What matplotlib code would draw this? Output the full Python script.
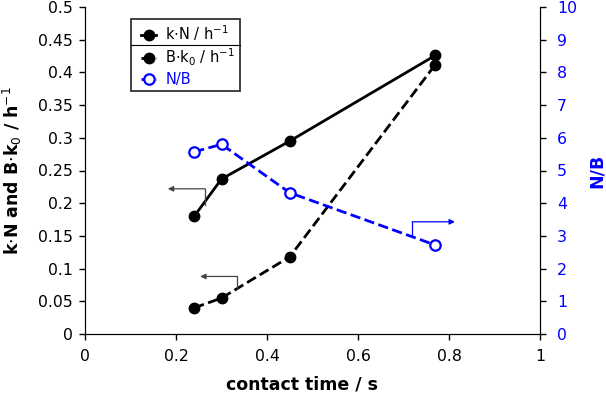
"""Rate constants and N/B ratio versus contact time."""

import matplotlib
matplotlib.use("Agg")
import matplotlib.pyplot as plt
from matplotlib.legend_handler import HandlerLine2D
from matplotlib.lines import Line2D

contact_time = [0.24, 0.30, 0.45, 0.77]
k_n = [0.180, 0.237, 0.295, 0.426]
b_k0 = [0.040, 0.055, 0.118, 0.412]
n_over_b = [5.57, 5.80, 4.32, 2.72]

plt.rcParams["font.family"] = ["DejaVu Sans"]

BLUE = "#0000ff"
GREY = "#444444"


class MarkerLeft(HandlerLine2D):
    # marker at the left end of the handle, line running to the right
    def get_xdata(self, legend, xdescent, ydescent, width, height, fontsize):
        x0 = -xdescent + 0.25 * width
        return [x0, width - xdescent], [x0]


fig = plt.figure(figsize=(6.06, 3.96), dpi=100)
ax = fig.add_axes([85 / 606, 1 - 334 / 396, 455 / 606, 327 / 396])
ax2 = ax.twinx()

(l1,) = ax.plot(contact_time, k_n, "-", color="black", lw=2,
                marker="o", ms=7.5, label=r"k$\cdot$N / h$^{-1}$")
(l2,) = ax.plot(contact_time, b_k0, "--", color="black", lw=2,
                marker="o", ms=7.5, label=r"B$\cdot$k$_0$ / h$^{-1}$")
(l3,) = ax2.plot(contact_time, n_over_b, "--", color=BLUE, lw=2,
                 marker="o", ms=7.5, mfc="white", mec=BLUE, mew=1.6,
                 label="N/B")

ax.set_xlim(0, 1)
ax.set_ylim(0, 0.5)
ax2.set_ylim(0, 10)
ax.set_xticks([0, 0.2, 0.4, 0.6, 0.8, 1])
ax.set_xticklabels(["0", "0.2", "0.4", "0.6", "0.8", "1"])
ax.set_yticks([i * 0.05 for i in range(11)])
ax.set_yticklabels(["0", "0.05", "0.1", "0.15", "0.2", "0.25", "0.3",
                    "0.35", "0.4", "0.45", "0.5"])
ax2.set_yticks(range(11))

for a in (ax, ax2):
    a.spines["top"].set_visible(False)
    a.tick_params(direction="out", length=4.3, width=1, labelsize=11.3)
ax.tick_params(axis="y", pad=4.5)
ax.tick_params(axis="x", pad=6.5)
ax2.tick_params(axis="y", colors="black", labelcolor=BLUE, pad=8)

ax.set_xlabel("contact time / s", fontsize=12.5, fontweight="bold")
ax.xaxis.set_label_coords(0.476, -0.128)
ax.set_ylabel(r"k$\cdot$N and B$\cdot$k$_0$ / h$^{-1}$", fontsize=12.5,
              fontweight="bold")
ax.yaxis.set_label_coords(-0.134, 0.5)
ax2.set_ylabel("N/B", fontsize=12.5, fontweight="bold", color=BLUE)
ax2.yaxis.set_label_coords(1.105, 0.5)

# arrows pointing to the axis each curve belongs to
ax.annotate("", xy=(0.182, 0.222), xytext=(0.264, 0.222),
            arrowprops=dict(arrowstyle="-|>", color=GREY, lw=0.9,
                            mutation_scale=8, shrinkA=0, shrinkB=0))
ax.plot([0.264, 0.264], [0.222, 0.197], color=GREY, lw=0.9)
ax.annotate("", xy=(0.253, 0.088), xytext=(0.333, 0.088),
            arrowprops=dict(arrowstyle="-|>", color=GREY, lw=0.9,
                            mutation_scale=8, shrinkA=0, shrinkB=0))
ax.plot([0.333, 0.333], [0.088, 0.070], color=GREY, lw=0.9)
ax2.annotate("", xy=(0.813, 3.43), xytext=(0.719, 3.43),
             arrowprops=dict(arrowstyle="-|>", color=BLUE, lw=0.9,
                             mutation_scale=8, shrinkA=0, shrinkB=0))
ax2.plot([0.719, 0.719], [3.43, 3.0], color=BLUE, lw=0.9)

leg = ax2.legend([l1, l2, l3],
                 [l1.get_label(), l2.get_label(), l3.get_label()],
                 loc="upper left", bbox_to_anchor=(0.101, 0.963),
                 frameon=True, fancybox=False, edgecolor="black",
                 handlelength=1.45, handletextpad=0.6, borderpad=0.3,
                 borderaxespad=0, labelspacing=0.25, fontsize=10.5,
                 handler_map={Line2D: MarkerLeft(numpoints=1)})
leg.get_frame().set_linewidth(1.3)
leg.get_texts()[2].set_color(BLUE)

# separator line under the first legend entry
fig.canvas.draw()
bb = leg.get_window_extent()
t0 = leg.get_texts()[0].get_window_extent()
t1 = leg.get_texts()[1].get_window_extent()
ysep = (t0.y0 + t1.y1) / 2
inv = fig.transFigure.inverted()
(x0f, yf), (x1f, _) = inv.transform([(bb.x0, ysep), (bb.x1, ysep)])
fig.add_artist(Line2D([x0f, x1f], [yf, yf], color="black", lw=0.8,
                      transform=fig.transFigure))

fig.savefig("out.png", dpi=100)
